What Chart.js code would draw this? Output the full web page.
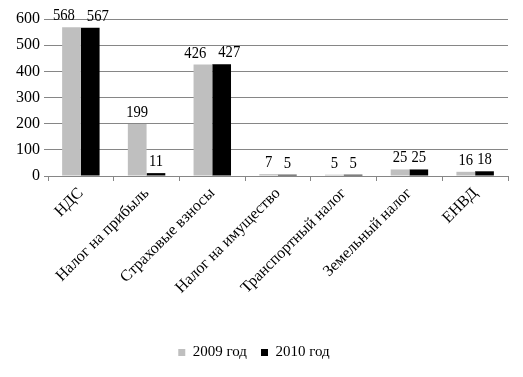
<!DOCTYPE html>
<html>
<head>
<meta charset="utf-8">
<script src="https://cdn.jsdelivr.net/npm/chart.js@4"></script>
<style>
  html, body { margin: 0; padding: 0; background: #fff; }
  #wrap { width: 523px; height: 377px; }
</style>
</head>
<body>
<div id="wrap"><canvas id="chart"></canvas></div>
<script>
const categories = ['НДС', 'Налог на прибыль', 'Страховые взносы', 'Налог на имущество', 'Транспортный налог', 'Земельный налог', 'ЕНВД'];
const values2009 = [568, 199, 426, 7, 5, 25, 16];
const values2010 = [567, 11, 427, 5, 5, 25, 18];
const yTicks = [0, 100, 200, 300, 400, 500, 600];

const serif = '"Liberation Serif", "Times New Roman", serif';
const labelScale = 0.86;

// подписи значений над столбцами; если соседние подписи налезают, раздвигаем их
const barLabels = {
  id: 'barLabels',
  afterDatasetsDraw(chart) {
    const ctx = chart.ctx;
    ctx.save();
    ctx.font = '17px ' + serif;
    const m0 = chart.getDatasetMeta(0).data;
    const m1 = chart.getDatasetMeta(1).data;
    const d0 = chart.data.datasets[0].data;
    const d1 = chart.data.datasets[1].data;
    m0.forEach((b0, j) => {
      const b1 = m1[j];
      const w0 = ctx.measureText(String(d0[j])).width * labelScale;
      const w1 = ctx.measureText(String(d1[j])).width * labelScale;
      let x0 = b0.x, x1 = b1.x;
      const raw = (x0 + w0 / 2) - (x1 - w1 / 2);
      if (raw > 0) { x0 -= (raw + 12) / 2; x1 += (raw + 12) / 2; }
      [[x0, b0.y, d0[j]], [x1, b1.y, d1[j]]].forEach(([x, y, v]) => {
        ctx.save();
        ctx.translate(x, y - 7);
        ctx.scale(labelScale, 1);
        ctx.textAlign = 'center';
        ctx.textBaseline = 'alphabetic';
        ctx.fillStyle = '#000';
        ctx.fillText(String(v), 0, 0);
        ctx.restore();
      });
    });
    ctx.restore();
  }
};

new Chart(document.getElementById('chart'), {
  type: 'bar',
  data: {
    labels: categories,
    datasets: [
      { label: '2009 год', data: values2009, backgroundColor: '#bfbfbf' },
      { label: '2010 год', data: values2010, backgroundColor: '#000000' }
    ]
  },
  options: {
    responsive: true,
    maintainAspectRatio: false,
    animation: false,
    datasets: { bar: { categoryPercentage: 0.57, barPercentage: 1 } },
    layout: { padding: { top: 19, right: 15, left: 0, bottom: 7 } },
    plugins: {
      tooltip: { enabled: false },
      legend: {
        position: 'bottom',
        labels: {
          font: { family: serif, size: 15 },
          color: '#000',
          boxWidth: 7,
          boxHeight: 7,
          padding: 14
        }
      }
    },
    scales: {
      x: {
        grid: { drawOnChartArea: false, color: '#868686', tickLength: 5 },
        border: { display: true, color: '#868686' },
        ticks: {
          font: { family: serif, size: 16 },
          color: '#000',
          maxRotation: 45,
          minRotation: 45,
          autoSkip: false
        },
        afterFit(scale) { scale.height = 155; }
      },
      y: {
        min: 0,
        max: 600,
        afterBuildTicks(scale) { scale.ticks = yTicks.map(v => ({ value: v })); },
        grid: { color: '#868686', tickLength: 4 },
        border: { display: false },
        ticks: {
          font: { family: serif, size: 16 },
          color: '#000',
          padding: 4
        },
        afterFit(scale) { scale.width = 48; }
      }
    }
  },
  plugins: [barLabels]
});
</script>
</body>
</html>
